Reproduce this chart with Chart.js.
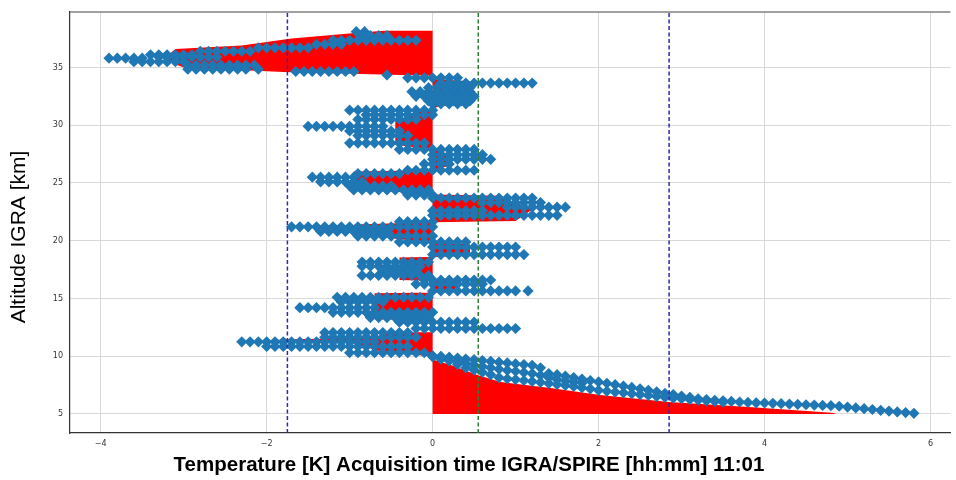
<!DOCTYPE html>
<html>
<head>
<meta charset="utf-8">
<script src="https://cdn.jsdelivr.net/npm/chart.js@4.4.1/dist/chart.umd.min.js"></script>
<style>
  html, body { margin: 0; padding: 0; background: #fff; }
</style>
</head>
<body>
<canvas id="chart" width="956" height="480"></canvas>
<script>
// axis ranges and ticks
const xRange = [-4.37, 6.24];
const yRange = [3.355, 39.8];
const xTicks = [-4, -2, 0, 2, 4, 6];
const yTicks = [5, 10, 15, 20, 25, 30, 35];

// vertical reference lines [K]
const refLines = [-1.75, 0.55, 2.85];
const refColors = ['#2b2bb0', '#2e7d32', '#2b2bb0'];

// red area: difference profile, [altitude km, temperature K]
const redProfile = [
  [5.0, 4.87], [5.1, 4.81], [5.6, 3.81], [6.04, 2.85], [6.65, 2.02], [7.25, 1.42],
  [7.77, 0.82], [8.38, 0.54], [9.24, 0.22], [9.68, 0.02], [10.0, 0],
  [10.1, -0.2], [10.4, -0.62], [11.2, -1.0], [11.45, -1.9], [11.6, -0.65], [12.05, -0.62], [12.1, 0],
  [13.1, 0], [13.2, -0.7], [15.45, -0.7], [15.55, 0.3], [16.5, 0.3], [16.6, -0.4], [18.55, -0.4],
  [18.65, 0.45], [19.7, 0.45], [19.8, 0], [20.3, -0.6], [21.4, -0.95], [21.6, 0],
  [21.7, 1.0], [22.7, 1.2], [23.9, 0.8], [24.0, 0], [24.5, -0.95], [26.0, -0.95], [26.1, 0],
  [26.5, 0.2], [27.5, 0.2], [27.9, 0], [28.3, -0.45], [30.4, -0.45], [31.3, -0.1], [31.4, 0],
  [32.8, 0.45], [33.8, 0.45], [34.0, 0], [34.28, -0.02], [34.6, -1.8], [35.0, -3.0], [35.7, -3.25],
  [36.6, -3.1], [36.9, -2.3], [37.5, -1.7], [38.0, -0.9], [38.2, -0.55]
];

// blue samples, rows as [altitude, temperatures...]
const layer38 = [
  [38.1, -0.92, -0.82],
  [37.75, -0.85, -0.75, -0.65, -0.55],
  [37.35, -1.2, -1.1, -1.0, -0.9, -0.8, -0.7, -0.6, -0.5, -0.4, -0.3, -0.2],
  [37.0, -1.4, -1.3, -1.2, -1.1],
  [36.7, -2.1, -2.0, -1.9, -1.8, -1.7, -1.6, -1.5],
  [36.4, -2.8, -2.7, -2.6, -2.5, -2.4, -2.3, -2.2],
  [36.1, -3.4, -3.3, -3.2, -3.1, -3.0, -2.9],
  [35.8, -3.9, -3.8, -3.7, -3.6, -3.5],
  [35.9, -3.3, -3.2, -3.1, -3.0, -2.9, -2.8, -2.7, -2.6],
  [35.5, -3.6, -3.5, -3.4, -3.3, -3.2, -3.1, -3.0],
  [35.2, -2.95, -2.85, -2.75, -2.65, -2.55, -2.45, -2.35, -2.25, -2.15],
  [34.85, -2.95, -2.85, -2.75, -2.65, -2.55, -2.45, -2.35, -2.25, -2.1],
  [34.65, -1.65, -1.55, -1.45, -1.35, -1.25, -1.15, -1.05, -0.95],
  [34.35, -0.55]
];
const layer33 = [
  [34.1, -0.3, -0.2, -0.1, 0.0, 0.1, 0.2, 0.3],
  [33.65, 0.1, 0.2, 0.3, 0.4, 0.5, 0.6, 0.7, 0.8, 0.9, 1.0, 1.1, 1.2],
  [33.25, -0.05, 0.05, 0.15, 0.25, 0.35, 0.45],
  [32.9, -0.25, -0.15, -0.05, 0.05, 0.15, 0.25, 0.35, 0.45],
  [32.5, -0.2, -0.1, 0.0, 0.1, 0.2, 0.3, 0.4, 0.5],
  [32.1, -0.05, 0.05, 0.15, 0.25, 0.35, 0.45],
  [31.85, 0.0, 0.1, 0.2, 0.3, 0.4]
];
const layer30 = [
  [31.3, -1.0, -0.9, -0.8, -0.7, -0.6, -0.5, -0.4, -0.3, -0.2, -0.1, 0.0],
  [30.9, -0.8, -0.7, -0.6, -0.5, -0.4, -0.3, -0.2, -0.1, 0.0],
  [30.5, -0.9, -0.8, -0.7, -0.6, -0.5, -0.4, -0.3, -0.2],
  [29.9, -1.5, -1.4, -1.3, -1.2, -1.1, -1.0, -0.9, -0.8, -0.7, -0.6],
  [29.5, -1.0, -0.9, -0.8, -0.7, -0.6, -0.5, -0.4],
  [29.1, -0.9, -0.8, -0.7, -0.6, -0.5, -0.4, -0.3],
  [28.45, -1.0, -0.9, -0.8, -0.7, -0.6, -0.5, -0.4, -0.3, -0.2, -0.1]
];
const layer27 = [
  [27.9, -0.4, -0.3, -0.2, -0.1, 0.0, 0.1, 0.2, 0.3, 0.4, 0.5],
  [27.45, 0.0, 0.1, 0.2, 0.3, 0.4, 0.5, 0.6],
  [27.05, 0.0, 0.1, 0.2, 0.3, 0.4, 0.5, 0.6, 0.7],
  [26.65, -0.1, 0.0, 0.1, 0.2]
];
const layer25 = [
  [26.1, -0.3, -0.2, -0.1, 0.0, 0.1, 0.2, 0.3, 0.4, 0.5],
  [25.8, -0.9, -0.8, -0.7, -0.6, -0.5, -0.4],
  [25.5, -1.45, -1.35, -1.25, -1.15, -1.05, -0.95],
  [25.1, -1.35, -1.25, -1.15, -1.05, -0.95, -0.85],
  [24.75, -1.0, -0.9, -0.8, -0.7, -0.6, -0.5],
  [24.4, -0.95, -0.85, -0.75, -0.65, -0.55, -0.45, -0.35, -0.25, -0.15, -0.05],
  [23.95, -0.3, -0.2, -0.1, 0.0]
];
const layer23 = [
  [23.7, 0.0, 0.1, 0.2, 0.3, 0.4, 0.5, 0.6, 0.7, 0.8, 0.9, 1.0, 1.1, 1.2],
  [23.3, 0.6, 0.7, 0.8, 0.9, 1.0, 1.1, 1.2, 1.3],
  [22.9, 0.9, 1.0, 1.1, 1.2, 1.3, 1.4, 1.5, 1.6],
  [22.6, 0.0, 0.1, 0.2, 0.3, 0.4, 0.5, 0.6],
  [22.2, 0.0, 0.1, 0.2, 0.3, 0.4, 0.5, 0.6, 0.7, 0.8, 0.9, 1.0, 1.1, 1.2, 1.3, 1.4, 1.5]
];
const layer21 = [
  [21.65, -0.4, -0.3, -0.2, -0.1, 0.0],
  [21.2, -1.7, -1.6, -1.5, -1.4, -1.3, -1.2, -1.1, -1.0, -0.9, -0.8, -0.7, -0.6, -0.5, -0.4, -0.3, -0.2, -0.1, 0.0],
  [20.8, -1.35, -1.25, -1.15, -1.05, -0.95, -0.85, -0.75, -0.65, -0.55],
  [20.4, -0.9, -0.8, -0.7, -0.6, -0.5, -0.4, -0.3, -0.2, -0.1, 0.0]
];
const layer19 = [
  [19.9, -0.4, -0.3, -0.2, -0.1, 0.0, 0.1, 0.2, 0.3, 0.4],
  [19.45, 0.0, 0.1, 0.2, 0.3, 0.4, 0.5, 0.6, 0.7, 0.8, 0.9, 1.0],
  [18.8, 0.0, 0.1, 0.2, 0.3, 0.4, 0.5, 0.6, 0.7, 0.8, 0.9, 1.0, 1.1]
];
const layer17 = [
  [18.15, -0.85, -0.75, -0.65, -0.55, -0.45, -0.35, -0.25, -0.15, -0.05],
  [17.8, -0.85, -0.75, -0.65, -0.55, -0.45, -0.35, -0.25, -0.15],
  [17.4, -0.6, -0.5, -0.4, -0.3, -0.2],
  [17.0, -0.85, -0.75, -0.65, -0.55, -0.45, -0.35, -0.25, -0.15, -0.05]
];
const layer16 = [
  [16.6, -0.1, 0.0, 0.1, 0.2, 0.3, 0.4, 0.5, 0.6, 0.7],
  [16.25, -0.2, -0.1, 0.0, 0.1, 0.2, 0.3, 0.4, 0.5, 0.6],
  [15.65, 0.0, 0.1, 0.2, 0.3, 0.4, 0.5, 0.6, 0.7, 0.8, 0.9, 1.0, 1.15]
];
const layer14 = [
  [15.1, -1.15, -1.05, -0.95, -0.85, -0.75, -0.65, -0.55, -0.45, -0.35, -0.25, -0.15, -0.05],
  [14.7, -1.1, -1.0, -0.9, -0.8, -0.7, -0.6],
  [14.2, -1.6, -1.5, -1.4, -1.3, -1.2, -1.1, -1.0, -0.9, -0.8, -0.7],
  [13.8, -1.2, -1.1, -1.0, -0.9, -0.8, -0.7, -0.6, -0.5, -0.4, -0.3, -0.2, -0.1, 0.0],
  [13.35, -0.75, -0.65, -0.55, -0.45, -0.35, -0.25, -0.15, -0.05],
  [12.95, -0.4, -0.3, -0.2, -0.1, 0.0, 0.1, 0.2, 0.3, 0.4, 0.5],
  [12.4, -0.2, -0.1, 0.0, 0.1, 0.2, 0.3, 0.4, 0.5, 0.6, 0.7, 0.8, 0.9, 1.0]
];
const layer11 = [
  [12.05, -1.3, -1.2, -1.1, -1.0, -0.9, -0.8, -0.7, -0.6, -0.5, -0.4, -0.3],
  [11.65, -1.3, -1.2, -1.1, -1.0, -0.9, -0.8, -0.7, -0.6, -0.5, -0.4, -0.3, -0.2],
  [11.25, -2.3, -2.2, -2.1, -2.0, -1.9, -1.8, -1.7, -1.6, -1.5, -1.4, -1.3, -1.2, -1.1, -1.0, -0.9, -0.8, -0.7],
  [10.85, -2.0, -1.9, -1.8, -1.7, -1.6, -1.5, -1.4, -1.3, -1.2, -1.1, -1.0, -0.9, -0.8, -0.7, -0.6, -0.5, -0.4, -0.3],
  [10.3, -1.0, -0.9, -0.8, -0.7, -0.6, -0.5, -0.4, -0.3, -0.2, -0.1]
];

// lower band, [temperature, altitude]
const bandUpper = [
  [0.0, 10.05], [0.1, 10.0], [0.2, 9.92], [0.3, 9.84], [0.4, 9.76], [0.5, 9.7], [0.6, 9.63],
  [0.7, 9.56], [0.8, 9.49], [0.9, 9.42], [1.0, 9.35], [1.1, 9.28], [1.2, 9.21], [1.3, 9.0],
  [1.4, 8.5], [1.5, 8.4], [1.6, 8.28], [1.7, 8.16], [1.8, 8.03], [1.9, 7.9], [2.0, 7.78],
  [2.1, 7.66], [2.2, 7.54], [2.3, 7.42], [2.4, 7.3], [2.5, 7.18], [2.6, 7.05], [2.7, 6.92],
  [2.8, 6.78], [2.9, 6.68], [3.0, 6.56], [3.1, 6.44], [3.2, 6.32], [3.3, 6.25], [3.4, 6.19],
  [3.5, 6.14], [3.6, 6.09], [3.7, 6.04], [3.8, 6.0], [3.9, 5.97], [4.0, 5.95], [4.1, 5.92],
  [4.2, 5.89], [4.3, 5.86], [4.4, 5.83], [4.5, 5.8], [4.6, 5.77], [4.7, 5.74], [4.8, 5.72],
  [4.9, 5.67], [5.0, 5.6], [5.1, 5.53], [5.2, 5.46], [5.3, 5.39], [5.4, 5.32], [5.5, 5.25],
  [5.6, 5.18], [5.7, 5.12], [5.8, 5.06]
];
const bandMiddle = [
  [0.3, 9.55], [0.4, 9.4], [0.5, 9.25], [0.6, 9.12], [0.7, 9.0], [0.8, 8.88], [0.9, 8.78],
  [1.0, 8.7], [1.1, 8.6], [1.2, 8.5], [1.3, 8.35], [1.4, 8.15], [1.5, 7.98], [1.6, 7.88],
  [1.7, 7.78], [1.8, 7.68]
];
const bandLower = [
  [0.0, 9.95], [0.1, 9.75], [0.2, 9.6], [0.3, 9.3], [0.4, 9.0], [0.5, 8.8], [0.6, 8.62],
  [0.7, 8.4], [0.8, 8.15], [0.9, 8.05], [1.0, 7.98], [1.1, 7.9], [1.2, 7.82], [1.3, 7.74],
  [1.4, 7.65], [1.5, 7.56], [1.6, 7.47], [1.7, 7.38], [1.8, 7.28], [1.9, 7.18], [2.0, 7.05],
  [2.1, 6.98], [2.2, 6.9], [2.3, 6.83], [2.4, 6.76], [2.5, 6.68], [2.6, 6.6], [2.7, 6.52],
  [2.8, 6.44], [2.9, 6.38], [3.0, 6.32], [3.1, 6.26], [3.2, 6.2], [3.3, 6.14], [3.4, 6.08],
  [3.5, 6.02]
];

const xTitle = 'Temperature [K] Acquisition time IGRA/SPIRE [hh:mm] 11:01';
const yTitle = 'Altitude IGRA [km]';

// build point lists
function rowPoints(rows) {
  const pts = [];
  rows.forEach(r => {
    for (let i = 1; i < r.length; i++) pts.push({x: r[i], y: r[0]});
  });
  return pts;
}
const bluePoints = [
  ...rowPoints(layer38), ...rowPoints(layer33), ...rowPoints(layer30), ...rowPoints(layer27),
  ...rowPoints(layer25), ...rowPoints(layer23), ...rowPoints(layer21), ...rowPoints(layer19),
  ...rowPoints(layer17), ...rowPoints(layer16), ...rowPoints(layer14), ...rowPoints(layer11),
  ...bandUpper.map(p => ({x: p[0], y: p[1]})),
  ...bandMiddle.map(p => ({x: p[0], y: p[1]})),
  ...bandLower.map(p => ({x: p[0], y: p[1]}))
];
const redPoints = redProfile.map(p => ({x: p[1], y: p[0]}));

const refDatasets = refLines.map((v, i) => ({
  type: 'line',
  data: [{x: v, y: yRange[0]}, {x: v, y: yRange[1]}],
  borderColor: refColors[i],
  borderWidth: 1.5,
  borderDash: [4, 2.5],
  pointRadius: 0,
  showLine: true,
  fill: false,
  order: 0
}));

// titles and top frame line
const frameAndTitles = {
  id: 'frameAndTitles',
  afterDraw(chart) {
    const {ctx, chartArea} = chart;
    ctx.save();
    ctx.strokeStyle = '#808080';
    ctx.lineWidth = 1.5;
    ctx.beginPath();
    ctx.moveTo(chartArea.left, chartArea.top);
    ctx.lineTo(chartArea.right, chartArea.top);
    ctx.stroke();

    ctx.fillStyle = '#000';
    ctx.textAlign = 'center';
    ctx.textBaseline = 'middle';
    ctx.font = 'bold 20.5px "Liberation Sans", Arial, sans-serif';
    ctx.fillText(xTitle, 469, 465);

    ctx.translate(19, 237);
    ctx.rotate(-Math.PI / 2);
    ctx.font = '21px "Liberation Sans", Arial, sans-serif';
    ctx.fillText(yTitle, 0, 0);
    ctx.restore();
  }
};

const minus = v => (v < 0 ? '\u2212' + Math.abs(v) : String(v));

new Chart(document.getElementById('chart'), {
  type: 'scatter',
  data: {
    datasets: [
      ...refDatasets,
      {
        label: 'IGRA - SPIRE',
        data: bluePoints,
        pointStyle: 'rectRot',
        pointRadius: 5.6,
        backgroundColor: '#1f77b4',
        borderWidth: 0,
        order: 1
      },
      {
        label: 'mean difference',
        type: 'line',
        indexAxis: 'y',
        data: redPoints,
        showLine: true,
        fill: {value: 0},
        backgroundColor: '#ff0000',
        borderColor: 'rgba(0,0,0,0)',
        borderWidth: 0,
        pointRadius: 0,
        tension: 0,
        order: 2
      }
    ]
  },
  options: {
    responsive: false,
    animation: false,
    events: [],
    layout: { padding: { top: 12, left: 0, right: 0, bottom: 0 } },
    plugins: { legend: { display: false }, tooltip: { enabled: false } },
    scales: {
      x: {
        type: 'linear',
        min: xRange[0],
        max: xRange[1],
        afterFit: s => { s.height = 47; },
        afterBuildTicks: s => { s.ticks = xTicks.map(v => ({value: v})); },
        ticks: {
          callback: v => minus(v),
          font: { size: 8, family: '"DejaVu Sans", sans-serif' },
          color: '#333',
          padding: 6,
          maxRotation: 0
        },
        grid: { color: '#d8d8d8', lineWidth: 1, drawTicks: false },
        border: { color: '#333', width: 1.2 }
      },
      y: {
        type: 'linear',
        min: yRange[0],
        max: yRange[1],
        afterFit: s => { s.width = 70; },
        afterBuildTicks: s => { s.ticks = yTicks.map(v => ({value: v})); },
        ticks: {
          font: { size: 8, family: '"DejaVu Sans", sans-serif' },
          color: '#333',
          padding: 7
        },
        grid: { color: '#d8d8d8', lineWidth: 1, drawTicks: false },
        border: { color: '#333', width: 1.2 }
      }
    }
  },
  plugins: [frameAndTitles]
});
</script>
</body>
</html>
